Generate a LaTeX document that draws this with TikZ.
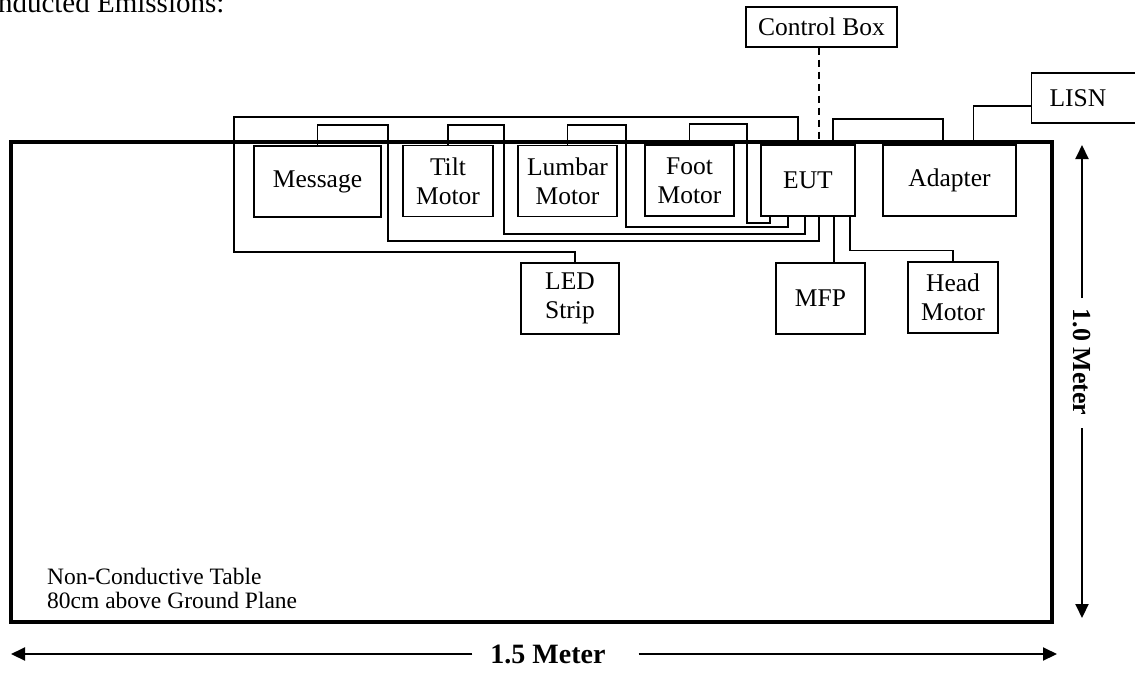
\documentclass[tikz,border=0pt]{standalone}
\usepackage{fontspec}
\setmainfont{Liberation Serif}
\usetikzlibrary{arrows.meta,positioning}

\begin{document}
\begin{tikzpicture}[x=1pt,y=-1pt,
  every node/.style={font=\fontsize{25.5}{29}\selectfont},
  unit/.style={draw,line width=1.1pt,inner sep=0pt,align=center,minimum height=71pt},
  boldunit/.style={unit,line width=2pt},
  wire/.style={line width=1.1pt},
  heavywire/.style={line width=2pt},
  note/.style={anchor=base west,inner sep=0pt,font=\fontsize{23.5}{26}\selectfont},
  dim/.style={line width=2pt,-{Triangle[length=14pt,width=13pt]}}]
\useasboundingbox (0,0) rectangle (1135,673);
\clip (0,0) rectangle (1135,673);
% heading (cut at the top edge)
\node[anchor=base west,inner sep=0pt,font=\fontsize{29}{31}\selectfont] (head) at (-36,12) {Conducted Emissions:};
% table
\draw[line width=4pt] (11,142) rectangle (1052,622);
\node[note] (tab1) at (47,584) {Non-Conductive Table};
\node[note] (tab2) at (47,608) {80cm above Ground Plane};
% units on the table
\node[unit,minimum width=127pt] (msg) at (317.5,181.5) {Message};
\node[unit,minimum width=90pt] (tilt) at (448,181) {Tilt\\Motor};
\node[unit,minimum width=99pt] (lumbar) at (567.5,181) {Lumbar\\Motor};
\node[unit,minimum width=89pt] (foot) at (689.5,180.5) {Foot\\Motor};
\node[unit,minimum width=94pt] (eut) at (808,180.5) {EUT};
\node[boldunit,minimum width=133pt] (adapter) at (949.5,180.5) {Adapter};
\node[boldunit,minimum width=98pt] (led) at (570,298.5) {LED\\Strip};
\node[unit,minimum width=89pt] (mfp) at (820.5,298.5) {MFP};
\node[unit,minimum width=90pt] (hmotor) at (953,297.5) {Head\\Motor};
% off the table
\node[unit,minimum width=151pt,minimum height=40pt] (ctrl) at (821.5,27) {Control Box};
\node[unit,minimum height=50pt,text width=90pt,align=left,inner xsep=18pt,anchor=west] (lisn) at (1031,98) {LISN};
% cables
\draw[heavywire] ([xshift=-10pt]eut.north) |- (234,117) -- (234,252) -| ([xshift=5pt]led.north);
\draw[wire] (msg.north) |- (388,125) -- (388,241) -| ([xshift=11pt]eut.south);
\draw[wire] (tilt.north) |- (504,125) -- (504,234) -| ([xshift=-3pt]eut.south);
\draw[wire] (lumbar.north) |- (626,125) -- (626,227) -| ([xshift=-20pt]eut.south);
\draw[wire] (foot.north) |- (747,124) -- (747,223) -| ([xshift=-38pt]eut.south);
\draw[heavywire] ([xshift=25pt]eut.north) |- (943,119) -| ([xshift=-6.5pt]adapter.north);
\draw[wire] ([xshift=24pt]adapter.north) |- ([yshift=-8pt]lisn.west);
\draw[wire,dashed,dash pattern=on 7pt off 5pt] ([xshift=-2.5pt]ctrl.south) -- ++(0,95);
\draw[wire] ([xshift=26pt]eut.south) -- ([xshift=26pt]eut.south |- mfp.north);
\draw[wire] ([xshift=42pt]eut.south) |- ([yshift=11pt]hmotor.north) -- (hmotor.north);
% dimensions
\node[font=\bfseries\fontsize{28}{30}\selectfont,inner sep=0pt] (wlen) at (548,654) {1.5 Meter};
\coordinate (wl) at (11,654);
\coordinate (wr) at (1057,654);
\draw[dim] ([xshift=-18pt]wlen.west) -- (wl);
\draw[dim] ([xshift=33pt]wlen.east) -- (wr);
\node[font=\bfseries\fontsize{26}{28}\selectfont,rotate=-90] (hlen) at (1082,362) {1.0 Meter};
\coordinate (ht) at (1082,145);
\coordinate (hb) at (1082,618);
\draw[dim] (1082,298) -- (ht);
\draw[dim] (1082,428) -- (hb);
\end{tikzpicture}
\end{document}
